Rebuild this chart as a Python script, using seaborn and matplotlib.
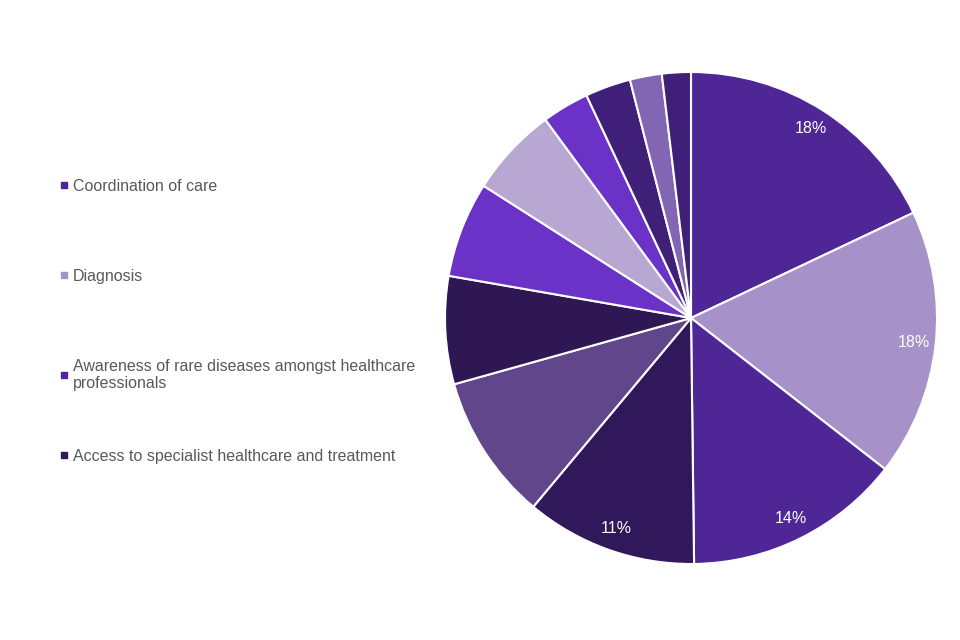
import matplotlib
matplotlib.use("Agg")
import matplotlib.pyplot as plt
from matplotlib.lines import Line2D
import seaborn as sns

# slice shares in %, clockwise from 12 o'clock
shares = [18.0, 17.6, 14.3, 11.3, 9.6, 7.1, 6.3, 5.9, 3.1, 3.0, 2.1, 1.9]
colours = ["#4e2695", "#a691c8", "#4f2696", "#30185b", "#61468c", "#2e1753",
           "#6a32c6", "#b9a7d3", "#6a32c6", "#3f1f78", "#8366b3", "#3f1f78"]
legend_names = ["Coordination of care",
                "Diagnosis",
                "Awareness of rare diseases amongst healthcare\nprofessionals",
                "Access to specialist healthcare and treatment"]

sns.set_theme(style="white")
plt.rcParams["font.family"] = ["Liberation Sans", "DejaVu Sans"]

fig = plt.figure(figsize=(9.6, 6.4), dpi=100)
ax = fig.add_axes([445 / 960, 76 / 640, 492 / 960, 492 / 640])

def pct(p):
    return f"{p:.0f}%" if p >= 10 else ""

wedges, texts, autotexts = ax.pie(
    shares, colors=colours, startangle=90, counterclock=False,
    autopct=pct, pctdistance=0.91,
    wedgeprops=dict(edgecolor="white", linewidth=1.5),
    textprops=dict(color="white", fontsize=11.5),
)
ax.set_xlim(-1.0, 1.0)
ax.set_ylim(-1.0, 1.0)
ax.axis("off")

# one small legend per entry so the rows sit where the original has them
row_tops = [179, 269, 359, 449]  # pixel rows from top of figure
for i, name in enumerate(legend_names):
    h = Line2D([0], [0], marker="s", linestyle="none", markersize=4.5,
               markerfacecolor=colours[i], markeredgecolor=colours[i])
    leg = fig.legend([h], [name], loc="upper left",
                     bbox_to_anchor=(59 / 960, 1 - row_tops[i] / 640),
                     frameon=False, fontsize=11.5, labelcolor="#595959",
                     handlelength=0.6, handletextpad=0.25,
                     borderpad=0, borderaxespad=0)
    for t in leg.get_texts():
        t.set_linespacing(1.15)

fig.savefig("out.png", dpi=100, facecolor="white")
